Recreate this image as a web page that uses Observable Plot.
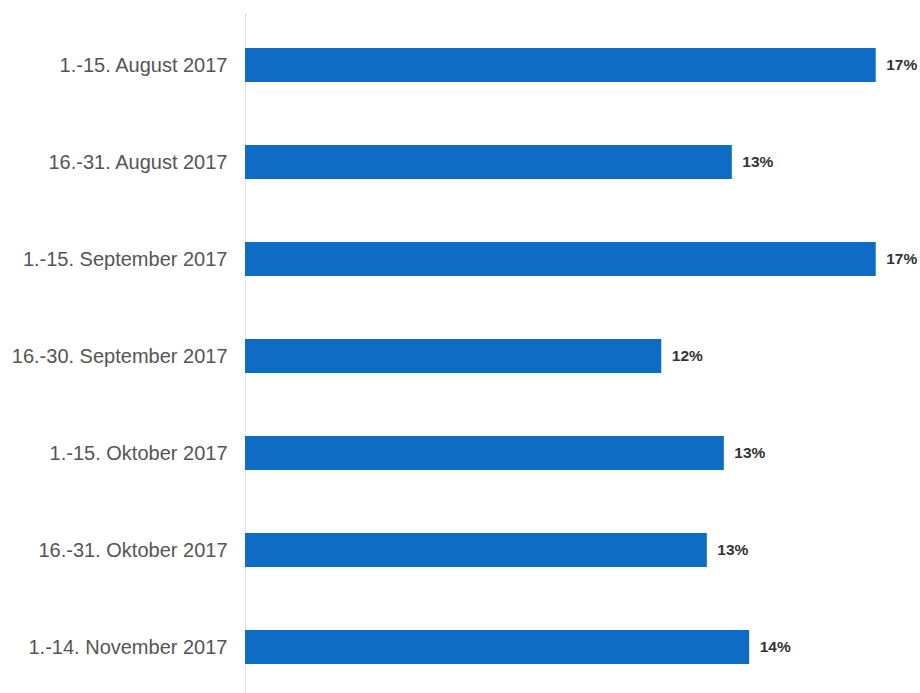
<!DOCTYPE html>
<html>
<head>
<meta charset="utf-8">
<script src="https://cdn.jsdelivr.net/npm/d3@7"></script>
<script src="https://cdn.jsdelivr.net/npm/@observablehq/plot@0.6"></script>
<style>
  html, body { margin: 0; padding: 0; background: #fff; }
  #chart svg { display: block; }
</style>
</head>
<body>
<div id="chart"></div>
<script>
const periods = [
  "1.-15. August 2017",
  "16.-31. August 2017",
  "1.-15. September 2017",
  "16.-30. September 2017",
  "1.-15. Oktober 2017",
  "16.-31. Oktober 2017",
  "1.-14. November 2017"
];
const shares = [17.44, 13.46, 17.44, 11.51, 13.24, 12.77, 13.94];
const shareLabels = ["17%", "13%", "17%", "12%", "13%", "13%", "14%"];

const data = periods.map((p, i) => ({period: p, share: shares[i], label: shareLabels[i]}));

const chart = Plot.plot({
  width: 920,
  height: 693,
  marginLeft: 245,
  marginRight: 24,
  marginTop: 13,
  marginBottom: 0,
  style: {fontFamily: "Liberation Sans, Arial, sans-serif", background: "#fff"},
  x: {domain: [0, 18], axis: null},
  y: {domain: periods, paddingInner: 0.648, paddingOuter: 0.317, align: 0.547, label: null, tickSize: 0},
  marks: [
    Plot.ruleX([0], {stroke: "#e6e6e6", strokeWidth: 1}),
    Plot.barX(data, {x: "share", y: "period", fill: "#0f6cc4"}),
    Plot.text(data, {x: "share", y: "period", text: "label", textAnchor: "start", dx: 10,
      fontWeight: "bold", fontSize: 15.5, fill: "#333"}),
    Plot.axisY({tickSize: 0, tickPadding: 18, fontSize: 20, color: "#555", label: null})
  ]
});
document.getElementById("chart").appendChild(chart);
</script>
</body>
</html>
